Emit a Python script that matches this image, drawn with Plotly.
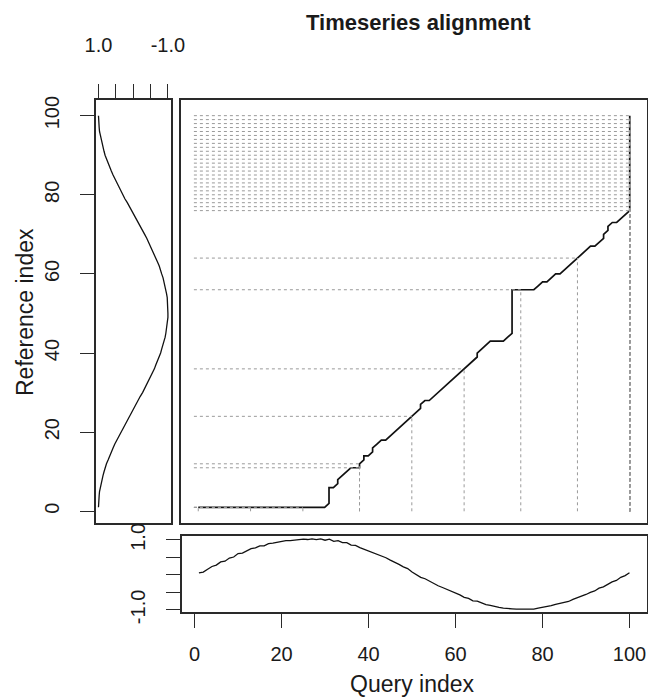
import plotly.graph_objects as go

W, H = 648, 698

# ---------------- data ----------------
index = list(range(1, 101))

reference = [1.00, 1.00, 0.99, 0.98, 0.97, 0.95, 0.93, 0.90, 0.87, 0.84,
             0.81, 0.77, 0.72, 0.68, 0.63, 0.58, 0.53, 0.47, 0.42, 0.36,
             0.30, 0.24, 0.17, 0.11, 0.05, -0.02, -0.08, -0.14, -0.20, -0.27,
             -0.33, -0.39, -0.44, -0.50, -0.55, -0.61, -0.65, -0.70, -0.75, -0.79,
             -0.82, -0.86, -0.89, -0.92, -0.94, -0.96, -0.98, -0.99, -1.00, -1.00,
             -1.00, -1.00, -0.99, -0.98, -0.96, -0.94, -0.92, -0.89, -0.86, -0.82,
             -0.79, -0.75, -0.70, -0.65, -0.61, -0.55, -0.50, -0.44, -0.39, -0.33,
             -0.27, -0.20, -0.14, -0.08, -0.02, 0.05, 0.11, 0.17, 0.24, 0.30,
             0.36, 0.42, 0.47, 0.53, 0.58, 0.63, 0.68, 0.72, 0.77, 0.81,
             0.84, 0.87, 0.90, 0.93, 0.95, 0.97, 0.98, 0.99, 1.00, 1.00]

query = [0.06, 0.08, 0.16, 0.24, 0.28, 0.37, 0.39, 0.48, 0.51, 0.61,
         0.62, 0.68, 0.75, 0.77, 0.83, 0.83, 0.89, 0.91, 0.93, 0.97,
         0.98, 0.98, 1.00, 1.00, 1.02, 1.01, 1.03, 1.01, 1.03, 0.99,
         1.02, 0.96, 0.98, 0.92, 0.92, 0.85, 0.84, 0.78, 0.73, 0.69,
         0.65, 0.60, 0.54, 0.49, 0.42, 0.37, 0.30, 0.23, 0.18, 0.08,
         0.01, -0.07, -0.11, -0.18, -0.23, -0.31, -0.36, -0.41, -0.48, -0.53,
         -0.57, -0.64, -0.67, -0.74, -0.75, -0.80, -0.85, -0.87, -0.91, -0.93,
         -0.95, -0.97, -0.97, -0.98, -0.98, -0.97, -0.98, -0.98, -0.95, -0.93,
         -0.91, -0.88, -0.84, -0.82, -0.78, -0.76, -0.70, -0.66, -0.60, -0.56,
         -0.50, -0.46, -0.38, -0.34, -0.27, -0.20, -0.16, -0.07, -0.02, 0.06]

path_query = [1, 2, 3, 4, 5, 6, 7, 8, 9, 10, 11, 12, 13, 14, 15, 16, 17, 18, 19, 20,
              21, 22, 23, 24, 25, 26, 27, 28, 29, 30,
              31, 31, 31, 31, 31,
              32, 33, 33, 34, 35, 36, 37, 38, 38,
              39, 39, 40, 41, 41, 42, 43, 44, 45, 46, 47, 48, 49, 50,
              51, 52, 52, 53, 54, 55, 56, 57, 58, 59, 60, 61, 62,
              63, 64, 65, 65, 66, 67, 68, 69, 70, 71, 72, 73,
              73, 73, 73, 73, 73, 73, 73, 73, 73, 73, 73,
              74, 75, 76, 77, 78,
              79, 80, 81, 82, 83, 84, 85, 86, 87, 88,
              89, 90, 91, 92, 93, 94, 94, 95, 95, 96, 97, 98, 99, 100,
              100, 100, 100, 100, 100, 100, 100, 100, 100, 100, 100, 100,
              100, 100, 100, 100, 100, 100, 100, 100, 100, 100, 100, 100]

path_reference = [1, 1, 1, 1, 1, 1, 1, 1, 1, 1, 1, 1, 1, 1, 1, 1, 1, 1, 1, 1,
                  1, 1, 1, 1, 1, 1, 1, 1, 1, 1,
                  2, 3, 4, 5, 6,
                  6, 7, 8, 9, 10, 11, 11, 11, 12,
                  13, 14, 14, 15, 16, 17, 18, 18, 19, 20, 21, 22, 23, 24,
                  25, 26, 27, 28, 28, 29, 30, 31, 32, 33, 34, 35, 36,
                  37, 38, 39, 40, 41, 42, 43, 43, 43, 43, 44, 45,
                  46, 47, 48, 49, 50, 51, 52, 53, 54, 55, 56,
                  56, 56, 56, 56, 56,
                  57, 58, 58, 59, 60, 60, 61, 62, 63, 64,
                  65, 66, 67, 67, 68, 69, 70, 71, 72, 73, 73, 74, 75, 76,
                  77, 78, 79, 80, 81, 82, 83, 84, 85, 86, 87, 88,
                  89, 90, 91, 92, 93, 94, 95, 96, 97, 98, 99, 100]

match_query = [1, 13, 25, 38, 38, 50, 62, 75, 88,
               100, 100, 100, 100, 100, 100, 100, 100, 100, 100, 100, 100, 100,
               100, 100, 100, 100, 100, 100, 100, 100, 100, 100, 100, 100]
match_reference = [1, 1, 1, 11, 12, 24, 36, 56, 64,
                   76, 77, 78, 79, 80, 81, 82, 83, 84, 85, 86, 87, 88,
                   89, 90, 91, 92, 93, 94, 95, 96, 97, 98, 99, 100]

x_ticks = [0, 20, 40, 60, 80, 100]
y_ticks = [0, 20, 40, 60, 80, 100]
amp_ticks = [1.0, 0.5, 0.0, -0.5, -1.0]
amp_ticktext = ["1.0", "", "", "", "-1.0"]

title_text = "Timeseries alignment"
xlab = "Query index"
ylab = "Reference index"

# ---------------- layout helpers ----------------
def px_x(a, b):
    return [a / W, b / W]

def px_y(top, bottom):
    return [1 - bottom / H, 1 - top / H]

FONT = "Liberation Sans, Arial, sans-serif"
TXT = "#1a1a1a"
BOX = "#2a2a2a"
TICKFONT = dict(family=FONT, size=20, color=TXT)

idx_range = [-2.96, 103.96]
q_lo, q_hi = min(query), max(query)
q_pad = 0.04 * (q_hi - q_lo)
q_range = [q_lo - q_pad, q_hi + q_pad]
r_lo, r_hi = min(reference), max(reference)
r_pad = 0.04 * (r_hi - r_lo)
r_range = [r_hi + r_pad, r_lo - r_pad]

fig = go.Figure()

# alignment path
fig.add_trace(go.Scatter(x=path_query, y=path_reference, mode="lines",
                         line=dict(color="#111111", width=1.7),
                         xaxis="x", yaxis="y", hoverinfo="skip"))

# match segments (drawn on top)
seg_x, seg_y = [], []
for mx, my in zip(match_query, match_reference):
    seg_x += [mx, mx, None, 0, mx, None]
    seg_y += [0, my, None, my, my, None]
fig.add_trace(go.Scatter(x=seg_x, y=seg_y, mode="lines",
                         line=dict(color="#9a9a9a", width=1, dash="3px,3px"),
                         connectgaps=False, xaxis="x", yaxis="y", hoverinfo="skip"))

# reference on left panel
fig.add_trace(go.Scatter(x=reference, y=index, mode="lines",
                         line=dict(color="#111111", width=1.3),
                         xaxis="x2", yaxis="y2", hoverinfo="skip"))

# query on bottom panel
fig.add_trace(go.Scatter(x=index, y=query, mode="lines",
                         line=dict(color="#111111", width=1.3),
                         xaxis="x3", yaxis="y3", hoverinfo="skip"))

box = dict(showline=True, mirror=True, linecolor=BOX, linewidth=1.6,
           showgrid=False, zeroline=False, automargin=False)

main_y_dom = px_y(100, 523)

fig.update_layout(
    width=W, height=H, margin=dict(l=0, r=0, t=0, b=0, autoexpand=False),
    paper_bgcolor="white", plot_bgcolor="white", showlegend=False,
    xaxis=dict(domain=px_x(181, 647), range=idx_range, anchor="y",
               showticklabels=False, ticks="", **box),
    yaxis=dict(domain=main_y_dom, range=idx_range, anchor="x",
               showticklabels=False, ticks="", **box),
    xaxis2=dict(domain=px_x(95.7, 170.7), range=r_range, anchor="y2", side="top",
                tickvals=amp_ticks, ticktext=amp_ticktext, ticks="outside",
                ticklen=14, tickwidth=1.3, tickcolor=BOX, tickfont=TICKFONT,
                ticklabelstandoff=24, **box),
    yaxis2=dict(domain=main_y_dom, range=idx_range, anchor="x2",
                tickvals=y_ticks, ticks="outside", ticklen=14, tickwidth=1.3,
                tickcolor=BOX, tickfont=TICKFONT, tickangle=-90,
                ticklabelstandoff=13, **box),
    xaxis3=dict(domain=px_x(181.7, 646.7), range=idx_range, anchor="y3",
                tickvals=x_ticks, ticks="outside", ticklen=14, tickwidth=1.3,
                tickcolor=BOX, tickfont=TICKFONT, ticklabelstandoff=9, **box),
    yaxis3=dict(domain=px_y(536, 612), range=q_range, anchor="x3",
                tickvals=amp_ticks, ticktext=amp_ticktext, ticks="outside",
                ticklen=14, tickwidth=1.3, tickcolor=BOX, tickfont=TICKFONT,
                tickangle=-90, ticklabelstandoff=13, **box),
    annotations=[
        dict(text="<b>" + title_text + "</b>", x=418 / W, y=1 - 22 / H,
             xref="paper", yref="paper", showarrow=False, xanchor="center",
             yanchor="middle", font=dict(family=FONT, size=22, color=TXT)),
        dict(text=xlab, x=412 / W, y=1 - 684 / H, xref="paper", yref="paper",
             showarrow=False, xanchor="center", yanchor="middle",
             font=dict(family=FONT, size=23, color=TXT)),
        dict(text=ylab, x=25 / W, y=1 - 312 / H, xref="paper", yref="paper",
             showarrow=False, xanchor="center", yanchor="middle", textangle=-90,
             font=dict(family=FONT, size=23, color=TXT)),
    ],
)

fig.write_html("out.html")
